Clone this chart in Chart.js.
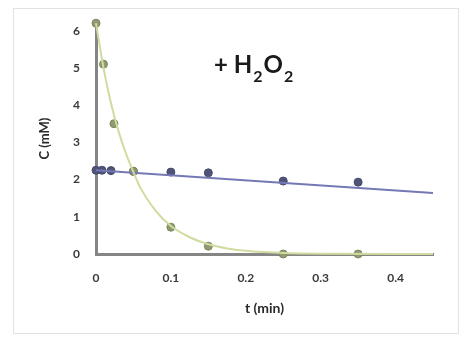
<!DOCTYPE html>
<html>
<head>
<meta charset="utf-8">
<script src="https://cdn.jsdelivr.net/npm/chart.js@4"></script>
<style>
  html, body { margin: 0; padding: 0; background: #fff; }
  #wrap { width: 466px; height: 339px; position: relative; }
</style>
</head>
<body>
<div id="wrap"><canvas id="kinChart"></canvas></div>
<script>
// measured points, t (min) vs C (mM)
const decayT = [0, 0.01, 0.024, 0.05, 0.1, 0.15, 0.25, 0.35];
const decayC = [6.2, 5.1, 3.5, 2.22, 0.72, 0.21, 0.0, 0.0];
const flatT = [0, 0.008, 0.02, 0.05, 0.1, 0.15, 0.25, 0.35];
const flatC = [2.25, 2.25, 2.24, 2.22, 2.2, 2.18, 1.96, 1.93];

// fitted curves
const decayFitT = [0, 0.01, 0.02, 0.03, 0.04, 0.05, 0.06, 0.08, 0.1, 0.125, 0.15, 0.175, 0.2, 0.25, 0.3, 0.45];
const decayFitC = [6.2, 5.0, 4.05, 3.3, 2.7, 2.2, 1.75, 1.15, 0.75, 0.45, 0.26, 0.15, 0.09, 0.03, 0.01, 0.0];
const flatFitT = [0, 0.45];
const flatFitC = [2.25, 1.64];

const xTicks = [0, 0.1, 0.2, 0.3, 0.4];
const yTicks = [0, 1, 2, 3, 4, 5, 6];

function pts(xs, ys) {
  return xs.map((x, i) => ({ x: x, y: ys[i] }));
}

const frameAndLabel = {
  id: "frameAndLabel",
  beforeDraw(chart) {
    const c = chart.ctx;
    c.save();
    c.strokeStyle = "#e2e2e2";
    c.lineWidth = 1;
    c.strokeRect(13.5, 8.5, 445, 325);
    c.restore();
  },
  afterDraw(chart) {
    const c = chart.ctx;
    c.save();
    c.fillStyle = "#1a1a1a";
    c.textBaseline = "alphabetic";
    c.font = "bold 24px Lato";
    let x = 214;
    const base = 73;
    c.fillText("+ H", x, base);
    x += c.measureText("+ H").width + 1;
    c.font = "bold 16px Lato";
    c.fillText("2", x, base + 9);
    x += c.measureText("2").width + 1;
    c.font = "bold 24px Lato";
    c.fillText("O", x, base);
    x += c.measureText("O").width + 1;
    c.font = "bold 16px Lato";
    c.fillText("2", x, base + 9);
    c.restore();
  }
};

new Chart(document.getElementById("kinChart"), {
  type: "scatter",
  data: {
    datasets: [
      {
        type: "line",
        data: pts(decayFitT, decayFitC),
        borderColor: "#cfdc9e",
        borderWidth: 2,
        pointRadius: 0,
        cubicInterpolationMode: "monotone",
        fill: false
      },
      {
        type: "line",
        data: pts(flatFitT, flatFitC),
        borderColor: "#7478b4",
        borderWidth: 2,
        pointRadius: 0,
        fill: false
      },
      {
        data: pts(decayT, decayC),
        backgroundColor: "#8e9a72",
        borderColor: "#7d8862",
        pointRadius: 4,
        borderWidth: 1
      },
      {
        data: pts(flatT, flatC),
        backgroundColor: "#4f5478",
        borderColor: "#454a6a",
        pointRadius: 4,
        borderWidth: 1
      }
    ]
  },
  options: {
    responsive: true,
    maintainAspectRatio: false,
    animation: false,
    clip: false,
    layout: { padding: { left: 14, top: 22, right: 33, bottom: 0 } },
    plugins: {
      legend: { display: false },
      tooltip: { enabled: false }
    },
    scales: {
      x: {
        type: "linear",
        min: 0,
        max: 0.45,
        afterBuildTicks: s => { s.ticks = xTicks.map(v => ({ value: v })); },
        afterFit: s => { s.height = 85; },
        grid: { display: false, drawTicks: false },
        border: { display: true, color: "#858585", width: 3 },
        ticks: {
          padding: 17,
          color: "#3a3a3a",
          font: { family: "Lato", size: 12, weight: "bold" },
          callback: v => String(v)
        },
        title: {
          display: true,
          text: "t (min)",
          color: "#2a2a2a",
          font: { family: "Lato", size: 14, weight: "bold" },
          padding: { top: 22, bottom: 22 }
        }
      },
      y: {
        min: 0,
        max: 6.2,
        afterBuildTicks: s => { s.ticks = yTicks.map(v => ({ value: v })); },
        afterFit: s => { s.width = 82; },
        grid: { display: false, drawTicks: false },
        border: { display: true, color: "#858585", width: 3 },
        ticks: {
          padding: 16,
          color: "#3a3a3a",
          font: { family: "Lato", size: 12, weight: "bold" }
        },
        title: {
          display: true,
          text: "C (mM)",
          color: "#2a2a2a",
          font: { family: "Lato", size: 13, weight: "bold" },
          padding: { top: 23, bottom: 0 }
        }
      }
    }
  },
  plugins: [frameAndLabel]
});
</script>
</body>
</html>
